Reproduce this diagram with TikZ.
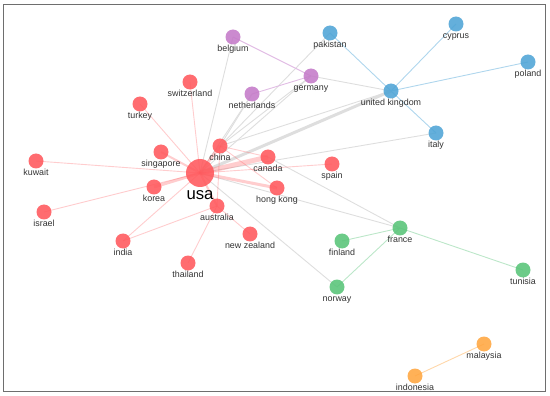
\documentclass[tikz,border=0pt]{standalone}
\usepackage{fontspec}
\setmainfont{Liberation Sans}
\usetikzlibrary{backgrounds}
\usepackage{xcolor}
\definecolor{usared}{RGB}{255,88,92}
\definecolor{eupurple}{RGB}{196,122,200}
\definecolor{ukblue}{RGB}{78,164,214}
\definecolor{frgreen}{RGB}{88,196,120}
\definecolor{asorange}{RGB}{255,166,64}
\definecolor{txtgray}{RGB}{51,51,51}
\definecolor{framegray}{RGB}{110,110,110}

\begin{document}
\begin{tikzpicture}[x=1pt, y=-1pt,
  country/.style={circle, inner sep=0pt, minimum size=15pt, fill opacity=0.88},
  hub/.style={country, minimum size=28pt},
  redc/.style={country, fill=usared},
  purc/.style={country, fill=eupurple},
  bluc/.style={country, fill=ukblue},
  grnc/.style={country, fill=frgreen},
  orac/.style={country, fill=asorange},
  lbl/.style={font=\fontsize{8.9}{10}\selectfont, text=txtgray, inner sep=0pt,
    text height=6.4pt, text depth=1.8pt},
  biglbl/.style={font=\fontsize{16.7}{19}\selectfont, text=black, inner sep=0pt,
    text height=12pt, text depth=0pt},
  redtie/.style={draw=usared, draw opacity=0.3, line width=0.9pt},
  graytie/.style={draw=black!13, line width=0.9pt},
  purtie/.style={draw=eupurple!50, line width=0.9pt},
  blutie/.style={draw=ukblue!45, line width=0.9pt},
  grntie/.style={draw=frgreen!40, line width=0.9pt},
  oratie/.style={draw=asorange!45, line width=0.9pt}]
\useasboundingbox (0,0) rectangle (550,396);

% usa cluster
\node (usa) [hub, fill=usared, label={[biglbl]below:usa}] at (200,173) {};
\node (switzerland) [redc, label={[lbl]below:switzerland}] at (190,82) {};
\node (turkey) [redc, label={[lbl]below:turkey}] at (140,104) {};
\node (china) [redc, label={[lbl]below:china}] at (220,146) {};
\node (singapore) [redc, label={[lbl]below:singapore}] at (161,152) {};
\node (kuwait) [redc, label={[lbl]below:kuwait}] at (36,161) {};
\node (canada) [redc, label={[lbl]below:canada}] at (268,157) {};
\node (spain) [redc, label={[lbl]below:spain}] at (332,164) {};
\node (korea) [redc, label={[lbl]below:korea}] at (154,187) {};
\node (hongkong) [redc, label={[lbl]below:hong kong}] at (277,188) {};
\node (israel) [redc, label={[lbl]below:israel}] at (44,212) {};
\node (australia) [redc, label={[lbl]below:australia}] at (217,206) {};
\node (india) [redc, label={[lbl]below:india}] at (123,241) {};
\node (newzealand) [redc, label={[lbl]below:new zealand}] at (250,234) {};
\node (thailand) [redc, label={[lbl]below:thailand}] at (188,263) {};

% europe
\node (belgium) [purc, label={[lbl]below:belgium}] at (233,37) {};
\node (netherlands) [purc, label={[lbl]below:netherlands}] at (252,94) {};
\node (germany) [purc, label={[lbl]below:germany}] at (311,76) {};
\node (pakistan) [bluc, label={[lbl]below:pakistan}] at (330,33) {};
\node (cyprus) [bluc, label={[lbl]below:cyprus}] at (456,24) {};
\node (poland) [bluc, label={[lbl]below:poland}] at (528,62) {};
\node (uk) [bluc, label={[lbl]below:united kingdom}] at (391,91) {};
\node (italy) [bluc, label={[lbl]below:italy}] at (436,133) {};
\node (france) [grnc, label={[lbl]below:france}] at (400,228) {};
\node (finland) [grnc, label={[lbl]below:finland}] at (342,241) {};
\node (norway) [grnc, label={[lbl]below:norway}] at (337,287) {};
\node (tunisia) [grnc, label={[lbl]below:tunisia}] at (523,270) {};
\node (malaysia) [orac, label={[lbl]below:malaysia}] at (484,344) {};
\node (indonesia) [orac, label={[lbl]below:indonesia}] at (415,376) {};

\begin{pgfonlayer}{background}
\draw[framegray, line width=1.5pt] (3.5,4.5) rectangle (545.5,391.5);
% links between clusters
\foreach \a/\b in {usa/belgium, usa/netherlands, china/netherlands, usa/germany,
    china/germany, china/pakistan, china/uk, usa/italy, canada/france,
    usa/france, usa/norway, germany/uk}
  \draw[graytie] (\a.center) -- (\b.center);
\draw[graytie, line width=3pt] (usa.center) -- (uk.center);
% links inside clusters
\foreach \a/\b in {usa/switzerland, usa/turkey, usa/kuwait, usa/israel, usa/india,
    usa/spain, australia/india, australia/thailand, australia/newzealand,
    china/canada, china/hongkong, china/australia}
  \draw[redtie] (\a.center) -- (\b.center);
\draw[redtie, line width=2pt] (usa.center) -- (singapore.center);
\draw[redtie, line width=2pt] (usa.center) -- (australia.center);
\draw[redtie, line width=3pt] (usa.center) -- (china.center);
\draw[redtie, line width=3pt] (usa.center) -- (korea.center);
\draw[redtie, line width=3pt] (usa.center) -- (hongkong.center);
\draw[redtie, line width=5pt] (usa.center) -- (canada.center);
\draw[purtie] (belgium.center) -- (germany.center);
\draw[purtie] (netherlands.center) -- (germany.center);
\foreach \b in {pakistan, cyprus, poland, italy}
  \draw[blutie] (uk.center) -- (\b.center);
\foreach \b in {finland, norway, tunisia}
  \draw[grntie] (france.center) -- (\b.center);
\draw[oratie] (malaysia.center) -- (indonesia.center);
\end{pgfonlayer}
\end{tikzpicture}
\end{document}
